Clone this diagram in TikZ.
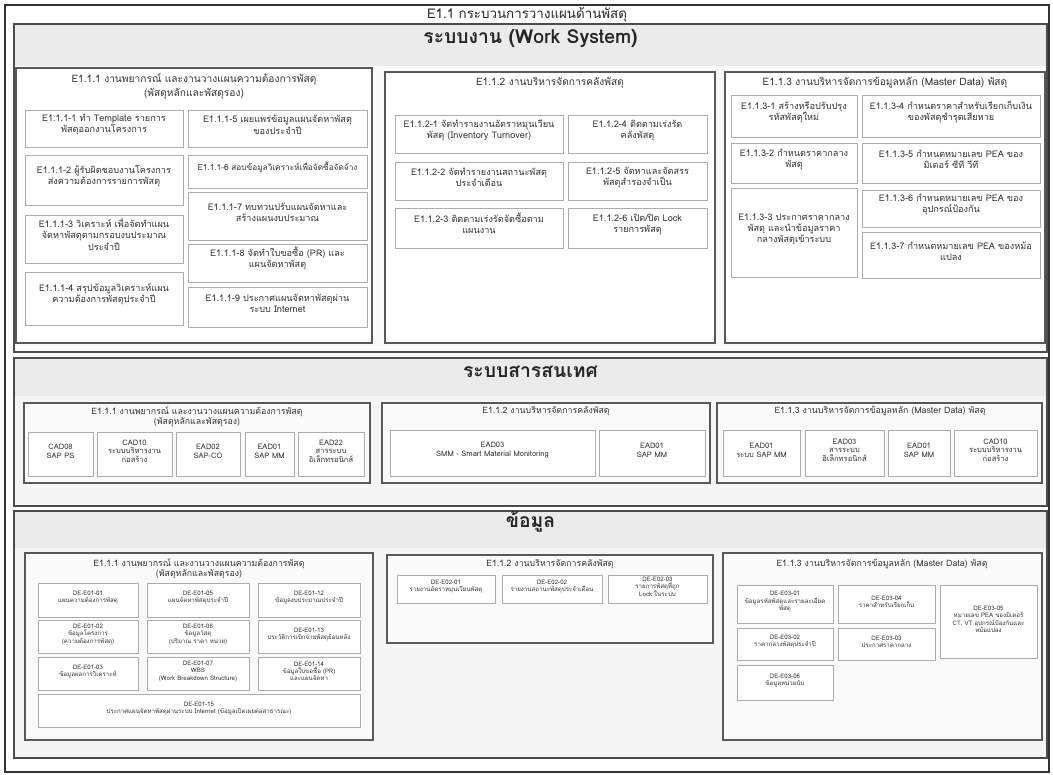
\documentclass[tikz,border=0pt]{standalone}
\usepackage{fontspec}
\setmainfont[Script=Thai]{Loma}
\usetikzlibrary{fit}

\begin{document}
\begin{tikzpicture}[x=0.02cm, y=-0.02cm,
  frame/.style={draw=black!80, line width=1.2pt, inner sep=0pt},
  sec/.style={draw=black!70, line width=0.8pt, fill=gray!8, inner sep=0pt},
  band/.style={fill=gray!16, inner sep=0pt, text=black!85,
    font=\bfseries\fontsize{11}{13}\selectfont},
  grp/.style={draw=black!65, line width=0.6pt, fill=white, inner sep=0pt},
  grpg/.style={grp, fill=gray!4},
  gtitle/.style={inner sep=0pt, align=center, text=black!80,
    font=\fontsize{5.8}{8}\selectfont},
  stitle/.style={gtitle, font=\fontsize{5}{5.8}\selectfont},
  item/.style={draw=gray!65, line width=0.5pt, fill=white, inner sep=0pt,
    align=center, text=black!80, font=\fontsize{5.2}{6.4}\selectfont},
  mitem/.style={item, font=\fontsize{4.3}{4.9}\selectfont},
  sitem/.style={item, font=\fontsize{3.5}{4.2}\selectfont},
]
\useasboundingbox (0,0) rectangle (1053,774);

\node[frame, fit={(5,5) (1049,772)}] (all) {};
\node[text=black!85, font=\fontsize{7.6}{9}\selectfont] (ttl) at (527,15)
  {E1.1 กระบวนการวางแผนด้านพัสดุ};

% ระบบงาน
\node[sec, fill=gray!4, fit={(14,24) (1047,352)}] (ws) {};
\node[band, fit={(15,25) (1046,66)}] (wsband) {ระบบงาน (Work System)};

\node[grp, fit={(16,68) (372,343)}] (g11) {};
\node[gtitle, anchor=north] (g11t) at (194,73)
  {E1.1.1 งานพยากรณ์ และงานวางแผนความต้องการพัสดุ\\(พัสดุหลักและพัสดุรอง)};
\node[item, fit={(25,110) (183,147)}] (w111) {E1.1.1-1 ทำ Template รายการ\\พัสดุออกงานโครงการ};
\node[item, fit={(25,155) (183,205)}] (w112) {E1.1.1-2 ผู้รับผิดชอบงานโครงการ\\ส่งความต้องการรายการพัสดุ};
\node[item, fit={(25,215) (183,263)}] (w113) {E1.1.1-3 วิเคราะห์ เพื่อจัดทำแผน\\จัดหาพัสดุตามกรอบงบประมาณ\\ประจำปี};
\node[item, fit={(25,272) (183,325)}] (w114) {E1.1.1-4 สรุปข้อมูลวิเคราะห์แผน\\ความต้องการพัสดุประจำปี};
\node[item, fit={(188,110) (367,147)}] (w115) {E1.1.1-5 เผยแพร่ข้อมูลแผนจัดหาพัสดุ\\ของประจำปี};
\node[item, font=\fontsize{4.7}{6}\selectfont, fit={(188,155) (367,188)}] (w116) {E1.1.1-6 สอบข้อมูลวิเคราะห์เพื่อจัดซื้อจัดจ้าง};
\node[item, fit={(188,192) (367,240)}] (w117) {E1.1.1-7 ทบทวนปรับแผนจัดหาและ\\สร้างแผนงบประมาณ};
\node[item, fit={(188,244) (367,282)}] (w118) {E1.1.1-8 จัดทำใบขอซื้อ (PR) และ\\แผนจัดหาพัสดุ};
\node[item, fit={(188,287) (367,327)}] (w119) {E1.1.1-9 ประกาศแผนจัดหาพัสดุผ่าน\\ระบบ Internet};

\node[grp, fit={(385,72) (715,343)}] (g12) {};
\node[gtitle] (g12t) at (550,83) {E1.1.2 งานบริหารจัดการคลังพัสดุ};
\node[item, fit={(395,115) (563,153)}] (w121) {E1.1.2-1 จัดทำรายงานอัตราหมุนเวียน\\พัสดุ (Inventory Turnover)};
\node[item, fit={(395,162) (563,200)}] (w122) {E1.1.2-2 จัดทำรายงานสถานะพัสดุ\\ประจำเดือน};
\node[item, fit={(395,208) (563,248)}] (w123) {E1.1.2-3 ติดตามเร่งรัดจัดซื้อตาม\\แผนงาน};
\node[item, fit={(568,115) (707,153)}] (w124) {E1.1.2-4 ติดตามเร่งรัด\\คลังพัสดุ};
\node[item, fit={(568,162) (707,200)}] (w125) {E1.1.2-5 จัดหาและจัดสรร\\พัสดุสำรองจำเป็น};
\node[item, fit={(568,208) (707,248)}] (w126) {E1.1.2-6 เปิด/ปิด Lock\\รายการพัสดุ};

\node[grp, fit={(725,72) (1045,343)}] (g13) {};
\node[gtitle] (g13t) at (885,83) {E1.1.3 งานบริหารจัดการข้อมูลหลัก (Master Data) พัสดุ};
\node[item, fit={(731,95) (857,137)}] (w131) {E1.1.3-1 สร้างหรือปรับปรุง\\รหัสพัสดุใหม่};
\node[item, fit={(731,143) (857,183)}] (w132) {E1.1.3-2 กำหนดราคากลาง\\พัสดุ};
\node[item, fit={(731,188) (857,277)}] (w133) {E1.1.3-3 ประกาศราคากลาง\\พัสดุ และนำข้อมูลราคา\\กลางพัสดุเข้าระบบ};
\node[item, fit={(862,95) (1040,137)}] (w134) {E1.1.3-4 กำหนดราคาสำหรับเรียกเก็บเงิน\\ของพัสดุชำรุดเสียหาย};
\node[item, fit={(862,143) (1040,183)}] (w135) {E1.1.3-5 กำหนดหมายเลข PEA ของ\\มิเตอร์ ซีที วีที};
\node[item, fit={(862,190) (1040,227)}] (w136) {E1.1.3-6 กำหนดหมายเลข PEA ของ\\อุปกรณ์ป้องกัน};
\node[item, fit={(862,232) (1040,278)}] (w137) {E1.1.3-7 กำหนดหมายเลข PEA ของหม้อ\\แปลง};

% ระบบสารสนเทศ
\node[sec, fit={(14,358) (1047,506)}] (is) {};
\node[band, fit={(15,359) (1046,396)}] (isband) {ระบบสารสนเทศ};

\node[grpg, fit={(24,403) (370,483)}] (i11) {};
\node[stitle, anchor=north] (i11t) at (197,406)
  {E1.1.1 งานพยากรณ์ และงานวางแผนความต้องการพัสดุ\\(พัสดุหลักและพัสดุรอง)};
\node[mitem, fit={(28,432) (93,476)}] (is1) {CAD08\\SAP PS};
\node[mitem, fit={(97,432) (172,476)}] (is2) {CAD10\\ระบบบริหารงาน\\ก่อสร้าง};
\node[mitem, fit={(176,432) (240,476)}] (is3) {EAD02\\SAP-CO};
\node[mitem, fit={(245,432) (294,476)}] (is4) {EAD01\\SAP MM};
\node[mitem, fit={(298,432) (364,476)}] (is5) {EAD22\\สารระบบ\\อิเล็กทรอนิกส์};

\node[grpg, fit={(382,403) (710,483)}] (i12) {};
\node[stitle] (i12t) at (546,411) {E1.1.2 งานบริหารจัดการคลังพัสดุ};
\node[mitem, fit={(390,430) (595,476)}] (is6) {EAD03\\SMM - Smart Material Monitoring};
\node[mitem, fit={(599,430) (705,476)}] (is7) {EAD01\\SAP MM};

\node[grpg, fit={(717,403) (1042,483)}] (i13) {};
\node[stitle] (i13t) at (880,411) {E1.1.3 งานบริหารจัดการข้อมูลหลัก (Master Data) พัสดุ};
\node[mitem, fit={(723,430) (800,476)}] (is8) {EAD01\\ระบบ SAP MM};
\node[mitem, fit={(805,430) (884,476)}] (is9) {EAD03\\สารระบบ\\อิเล็กทรอนิกส์};
\node[mitem, fit={(888,430) (950,476)}] (is10) {EAD01\\SAP MM};
\node[mitem, fit={(954,430) (1037,476)}] (is11) {CAD10\\ระบบบริหารงาน\\ก่อสร้าง};

% ข้อมูล
\node[sec, fit={(14,511) (1047,758)}] (dt) {};
\node[band, fit={(15,512) (1046,548)}] (dtband) {ข้อมูล};

\node[grpg, fit={(25,553) (373,740)}] (d11) {};
\node[stitle, anchor=north] (d11t) at (199,558)
  {E1.1.1 งานพยากรณ์ และงานวางแผนความต้องการพัสดุ\\(พัสดุหลักและพัสดุรอง)};
\node[sitem, fit={(38,583) (138,617)}] (dt1) {DE-E01-01\\แผนความต้องการพัสดุ};
\node[sitem, fit={(38,620) (138,653)}] (dt2) {DE-E01-02\\ข้อมูลโครงการ\\(ความต้องการพัสดุ)};
\node[sitem, fit={(38,657) (138,690)}] (dt3) {DE-E01-03\\ข้อมูลผลการวิเคราะห์};
\node[sitem, fit={(147,583) (249,617)}] (dt4) {DE-E01-05\\แผนจัดหาพัสดุประจำปี};
\node[sitem, fit={(147,620) (249,653)}] (dt5) {DE-E01-06\\ข้อมูลวัสดุ\\(ปริมาณ ราคา หน่วย)};
\node[sitem, fit={(147,657) (249,690)}] (dt6) {DE-E01-07\\WBS\\(Work Breakdown Structure)};
\node[sitem, fit={(258,583) (360,617)}] (dt7) {DE-E01-12\\ข้อมูลงบประมาณประจำปี};
\node[sitem, fit={(258,620) (360,653)}] (dt8) {DE-E01-13\\ประวัติการเบิกจ่ายพัสดุย้อนหลัง};
\node[sitem, fit={(258,657) (360,690)}] (dt9) {DE-E01-14\\ข้อมูลใบขอซื้อ (PR)\\และแผนจัดหา};
\node[sitem, fit={(38,694) (360,727)}] (dt10) {DE-E01-15\\ประกาศแผนจัดหาพัสดุผ่านระบบ Internet (ข้อมูลเปิดเผยต่อสาธารณะ)};

\node[grpg, fit={(387,555) (713,643)}] (d12) {};
\node[stitle] (d12t) at (550,564) {E1.1.2 งานบริหารจัดการคลังพัสดุ};
\node[sitem, fit={(397,575) (495,603)}] (dt11) {DE-E02-01\\รายงานอัตราหมุนเวียนพัสดุ};
\node[sitem, fit={(502,575) (602,603)}] (dt12) {DE-E02-02\\รายงานสถานะพัสดุประจำเดือน};
\node[sitem, fit={(608,575) (707,603)}] (dt13) {DE-E02-03\\รายการพัสดุที่ถูก\\Lock ในระบบ};

\node[grpg, fit={(723,553) (1042,740)}] (d13) {};
\node[stitle] (d13t) at (882,564) {E1.1.3 งานบริหารจัดการข้อมูลหลัก (Master Data) พัสดุ};
\node[sitem, fit={(737,585) (833,623)}] (dt14) {DE-E03-01\\ข้อมูลรหัสพัสดุและรายละเอียด\\พัสดุ};
\node[sitem, fit={(737,628) (833,660)}] (dt15) {DE-E03-02\\ราคากลางพัสดุประจำปี};
\node[sitem, fit={(737,665) (833,700)}] (dt16) {DE-E03-06\\ข้อมูลหน่วยนับ};
\node[sitem, fit={(838,585) (935,623)}] (dt17) {DE-E03-04\\ราคาสำหรับเรียกเก็บ};
\node[sitem, fit={(838,628) (935,660)}] (dt18) {DE-E03-03\\ประกาศราคากลาง};
\node[sitem, fit={(940,585) (1037,658)}] (dt19) {DE-E03-05\\หมายเลข PEA ของมิเตอร์\\CT, VT อุปกรณ์ป้องกันและ\\หม้อแปลง};
\end{tikzpicture}
\end{document}
